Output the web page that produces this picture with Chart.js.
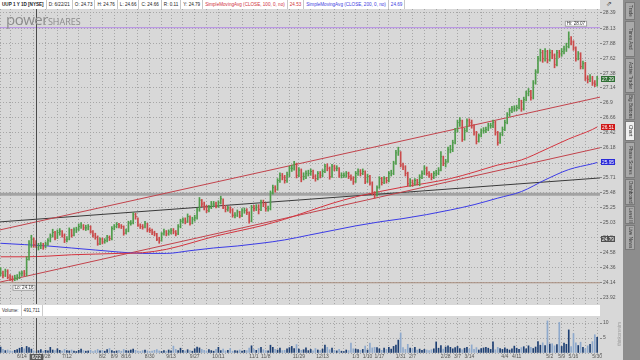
<!DOCTYPE html>
<html>
<head>
<meta charset="utf-8">
<title>UUP 1Y 1D</title>
<script src="https://cdn.jsdelivr.net/npm/chart.js@4.4.1/dist/chart.umd.min.js"></script>
<style>
  body { margin: 0; width: 640px; height: 360px; overflow: hidden; position: relative;
         background: #d8d8d8; font-family: "Liberation Sans", Arial, sans-serif; }
  canvas { position: absolute; left: 0; }
  #priceChart { top: 9px; }
  #volChart { top: 318px; }
  #hdr { position: absolute; left: 0; top: 0; width: 600px; height: 9px; background: #fff;
         white-space: nowrap; font-size: 4.6px; line-height: 9px; color: #222; }
  #hdr span { display: inline-block; padding: 0 2px; border-right: 1px solid #c8c8c8; }
  #hdr .r { color: #d0303c; }
  #hdr .b { color: #3c3ce0; }
  #logo { position: absolute; left: 6px; top: 9px; color: #8c8c8c; font-family: "Open Sans", sans-serif;
          font-size: 15px; letter-spacing: -0.5px; }
  #logo small { font-size: 9px; letter-spacing: 0; }
  #volbar { position: absolute; left: 0; top: 305px; width: 600px; height: 11px; background: #fff;
            font-size: 4.6px; line-height: 11px; color: #333; }
  #volbar span { display: inline-block; padding: 0 2px; border-right: 1px solid #ccc; }
  #tos { position: absolute; left: 617px; top: 322px; font-size: 4.5px; color: #9a9a9a;
         writing-mode: vertical-rl; transform: rotate(180deg); }
  #icon { position: absolute; left: 606px; top: 0; font-size: 7px; color: #444; }
  #tabs { position: absolute; left: 623px; top: 0; width: 17px; height: 360px; background: #8d8d8d; }
  #tabs div { position: absolute; left: 2px; width: 10px; background: #a9a9a9; border: 1px solid #7a7a7a;
              box-sizing: border-box; font-size: 4.6px; color: #333; writing-mode: vertical-rl;
              text-align: center; line-height: 8px; overflow: hidden; }
  #tabs div.on { background: #efefef; }
</style>
</head>
<body>
<div id="hdr"><span><b>UUP 1 Y 1D [NYSE]</b></span><span>D: 6/22/21</span><span>O: 24.73</span><span>H: 24.76</span><span>L: 24.66</span><span>C: 24.66</span><span>R: 0.11</span><span>Y: 24.79</span><span class="r">SimpleMovingAvg (CLOSE, 100, 0, no)</span><span class="r">24.53</span><span class="b">SimpleMovingAvg (CLOSE, 200, 0, no)</span><span class="b">24.69</span></div>
<div id="icon">&#8663;</div>
<canvas id="priceChart" width="622" height="295"></canvas>
<div id="logo">power<small>SHARES</small></div>
<div id="volbar"><span>Volume:</span><span>491,711</span></div>
<canvas id="volChart" width="622" height="42"></canvas>
<div id="tos">thinkorswim</div>
<div id="tabs">
  <div style="top:2px;height:18px">Trade</div>
  <div style="top:21px;height:36px">Times And Sales</div>
  <div style="top:58px;height:35px">Active Trader</div>
  <div style="top:94px;height:26px">Big Buttons</div>
  <div class="on" style="top:121px;height:20px">Chart</div>
  <div style="top:142px;height:36px">Phase Scores</div>
  <div style="top:179px;height:26px">Dashboard</div>
  <div style="top:206px;height:18px">Level II</div>
  <div style="top:225px;height:25px">Live News</div>
</div>
<script>
// daily bars, 6/1/21 .. 5/31/22 (index = trading day)
const high = [
  24.36, 24.31, 24.34, 24.33, 24.26, 24.24, 24.25, 24.26, 24.30, 24.31,
  24.32, 24.52, 24.76, 24.84, 24.80, 24.76, 24.72, 24.73, 24.72, 24.74,
  24.79, 24.86, 24.93, 24.90, 24.92, 24.94, 24.91, 24.86, 24.82, 24.95,
  24.93, 24.95, 24.96, 25.01, 25.03, 25.00, 24.99, 25.00, 24.98, 24.91,
  24.87, 24.83, 24.80, 24.80, 24.79, 24.84, 24.83, 24.97, 25.00, 25.03,
  25.02, 25.00, 24.98, 24.93, 25.05, 25.06, 25.18, 25.17, 25.10, 25.01,
  25.00, 25.05, 25.02, 24.95, 24.93, 24.90, 24.87, 24.81, 24.88, 24.93,
  24.91, 24.92, 24.94, 24.94, 24.91, 25.00, 25.08, 25.10, 25.10, 25.16,
  25.13, 25.11, 25.14, 25.25, 25.41, 25.38, 25.34, 25.29, 25.29, 25.35,
  25.35, 25.34, 25.36, 25.43, 25.39, 25.29, 25.28, 25.27, 25.24, 25.18,
  25.22, 25.20, 25.24, 25.25, 25.24, 25.19, 25.29, 25.29, 25.30, 25.30,
  25.37, 25.37, 25.33, 25.28, 25.51, 25.60, 25.59, 25.70, 25.79, 25.78,
  25.75, 25.80, 25.89, 25.91, 25.97, 25.94, 25.87, 25.85, 25.79, 25.82,
  25.83, 25.85, 25.83, 25.76, 25.81, 25.81, 25.84, 25.92, 25.93, 25.88,
  25.92, 25.91, 25.90, 25.87, 25.79, 25.79, 25.81, 25.80, 25.76, 25.73,
  25.81, 25.85, 25.84, 25.85, 25.82, 25.77, 25.75, 25.65, 25.50, 25.59,
  25.73, 25.72, 25.73, 25.72, 25.81, 25.83, 25.97, 26.14, 26.19, 26.12,
  25.94, 25.90, 25.80, 25.70, 25.68, 25.70, 25.69, 25.76, 25.82, 25.90,
  25.88, 25.81, 25.78, 25.81, 25.83, 25.87, 26.12, 26.05, 26.00, 26.19,
  26.22, 26.30, 26.49, 26.62, 26.66, 26.62, 26.49, 26.64, 26.64, 26.62,
  26.55, 26.44, 26.40, 26.48, 26.50, 26.51, 26.57, 26.57, 26.62, 26.60,
  26.44, 26.42, 26.51, 26.62, 26.74, 26.81, 26.84, 26.85, 26.86, 26.97,
  26.94, 26.99, 27.09, 27.13, 27.10, 27.26, 27.44, 27.66, 27.78, 27.76,
  27.79, 27.76, 27.77, 27.76, 27.70, 27.76, 27.76, 27.79, 27.83, 27.88,
  28.07, 27.99, 27.92, 27.82, 27.74, 27.72, 27.58, 27.56, 27.34, 27.36,
  27.33, 27.26, 27.33
];
const low = [
  24.24, 24.21, 24.23, 24.20, 24.17, 24.16, 24.17, 24.18, 24.20, 24.24,
  24.24, 24.24, 24.47, 24.66, 24.66, 24.66, 24.62, 24.64, 24.63, 24.65,
  24.69, 24.74, 24.81, 24.77, 24.79, 24.84, 24.81, 24.73, 24.74, 24.77,
  24.81, 24.83, 24.88, 24.91, 24.94, 24.92, 24.91, 24.92, 24.87, 24.81,
  24.78, 24.69, 24.70, 24.71, 24.72, 24.74, 24.76, 24.77, 24.92, 24.95,
  24.95, 24.94, 24.84, 24.86, 24.89, 24.99, 25.01, 25.08, 24.97, 24.94,
  24.93, 24.95, 24.89, 24.88, 24.85, 24.83, 24.76, 24.72, 24.75, 24.84,
  24.83, 24.84, 24.86, 24.86, 24.83, 24.85, 24.95, 25.02, 25.01, 25.03,
  24.99, 25.01, 25.05, 25.08, 25.20, 25.27, 25.22, 25.18, 25.19, 25.24,
  25.27, 25.25, 25.26, 25.31, 25.24, 25.19, 25.20, 25.18, 25.11, 25.10,
  25.12, 25.10, 25.12, 25.17, 25.15, 25.02, 25.04, 25.20, 25.21, 25.16,
  25.21, 25.27, 25.20, 25.20, 25.22, 25.46, 25.49, 25.52, 25.64, 25.68,
  25.63, 25.64, 25.73, 25.81, 25.83, 25.71, 25.73, 25.65, 25.68, 25.70,
  25.74, 25.75, 25.70, 25.66, 25.68, 25.71, 25.73, 25.79, 25.82, 25.69,
  25.72, 25.82, 25.82, 25.72, 25.71, 25.72, 25.72, 25.70, 25.67, 25.61,
  25.64, 25.75, 25.74, 25.76, 25.62, 25.64, 25.60, 25.45, 25.40, 25.43,
  25.55, 25.60, 25.62, 25.63, 25.65, 25.74, 25.76, 25.92, 26.06, 25.88,
  25.84, 25.74, 25.59, 25.58, 25.58, 25.60, 25.60, 25.59, 25.70, 25.76,
  25.75, 25.72, 25.68, 25.70, 25.74, 25.76, 25.82, 25.90, 25.88, 25.95,
  26.10, 26.12, 26.24, 26.43, 26.52, 26.28, 26.30, 26.43, 26.53, 26.49,
  26.38, 26.24, 26.27, 26.35, 26.41, 26.42, 26.45, 26.49, 26.50, 26.38,
  26.22, 26.25, 26.37, 26.45, 26.56, 26.68, 26.74, 26.76, 26.77, 26.80,
  26.76, 26.78, 26.93, 27.01, 26.94, 26.96, 27.20, 27.38, 27.58, 27.56,
  27.58, 27.55, 27.58, 27.62, 27.47, 27.50, 27.64, 27.66, 27.70, 27.74,
  27.80, 27.85, 27.76, 27.58, 27.60, 27.45, 27.45, 27.26, 27.22, 27.24,
  27.18, 27.16, 27.17
];
const close = [
  24.28, 24.25, 24.31, 24.22, 24.20, 24.19, 24.21, 24.22, 24.27, 24.28,
  24.27, 24.48, 24.72, 24.78, 24.70, 24.66, 24.68, 24.69, 24.67, 24.71,
  24.76, 24.83, 24.88, 24.80, 24.88, 24.90, 24.84, 24.77, 24.78, 24.92,
  24.84, 24.92, 24.93, 24.97, 24.98, 24.95, 24.95, 24.97, 24.89, 24.84,
  24.81, 24.71, 24.78, 24.74, 24.76, 24.81, 24.79, 24.94, 24.97, 25.00,
  24.98, 24.97, 24.87, 24.90, 25.02, 25.02, 25.15, 25.12, 24.99, 24.97,
  24.96, 25.02, 24.92, 24.91, 24.88, 24.86, 24.78, 24.76, 24.86, 24.89,
  24.86, 24.89, 24.91, 24.89, 24.86, 24.97, 25.05, 25.07, 25.05, 25.12,
  25.02, 25.08, 25.10, 25.22, 25.37, 25.31, 25.26, 25.21, 25.26, 25.31,
  25.31, 25.28, 25.33, 25.39, 25.26, 25.23, 25.25, 25.22, 25.14, 25.14,
  25.19, 25.13, 25.21, 25.21, 25.18, 25.05, 25.26, 25.24, 25.26, 25.23,
  25.34, 25.31, 25.24, 25.24, 25.48, 25.56, 25.53, 25.67, 25.75, 25.72,
  25.67, 25.76, 25.86, 25.86, 25.93, 25.75, 25.83, 25.73, 25.73, 25.78,
  25.78, 25.81, 25.73, 25.70, 25.78, 25.75, 25.81, 25.89, 25.86, 25.73,
  25.89, 25.86, 25.86, 25.75, 25.75, 25.75, 25.78, 25.73, 25.70, 25.65,
  25.78, 25.81, 25.78, 25.81, 25.65, 25.73, 25.63, 25.48, 25.45, 25.56,
  25.70, 25.64, 25.70, 25.67, 25.78, 25.78, 25.94, 26.10, 26.13, 25.91,
  25.88, 25.78, 25.62, 25.64, 25.62, 25.67, 25.64, 25.72, 25.78, 25.86,
  25.78, 25.75, 25.72, 25.78, 25.78, 25.83, 26.04, 25.94, 25.96, 26.15,
  26.15, 26.26, 26.45, 26.58, 26.61, 26.31, 26.45, 26.61, 26.58, 26.53,
  26.42, 26.28, 26.37, 26.45, 26.45, 26.47, 26.53, 26.53, 26.58, 26.42,
  26.26, 26.39, 26.47, 26.58, 26.71, 26.77, 26.80, 26.80, 26.82, 26.93,
  26.80, 26.95, 27.05, 27.08, 26.98, 27.22, 27.40, 27.62, 27.72, 27.62,
  27.74, 27.60, 27.72, 27.68, 27.52, 27.72, 27.70, 27.74, 27.78, 27.82,
  27.95, 27.90, 27.80, 27.62, 27.70, 27.49, 27.54, 27.30, 27.28, 27.30,
  27.22, 27.20, 27.29
];
// volume, millions
const volume = [
  2.0, 1.2, 0.8, 1.0, 0.7, 0.6, 0.9, 1.1, 1.6, 1.9,
  1.4, 2.2, 1.8, 1.3, 0.7, 0.5, 0.8, 1.1, 0.6, 0.9,
  0.7, 1.9, 1.0, 0.8, 1.4, 0.9, 0.6, 1.2, 0.8, 0.7,
  1.0, 0.6, 0.5, 0.9, 1.3, 0.8, 0.6, 0.7, 0.9, 0.5,
  0.8, 1.2, 0.7, 0.9, 0.6, 1.1, 1.5, 0.8, 0.5, 0.7,
  0.9, 0.6, 1.2, 0.8, 0.7, 1.0, 1.3, 0.9, 0.6, 0.5,
  0.8, 1.0, 0.7, 0.5, 0.6, 0.9, 1.1, 0.7, 0.5, 0.8,
  0.6, 1.0, 0.7, 2.3, 1.2, 0.8, 1.6, 0.9, 0.7, 1.1,
  0.8, 0.6, 1.4, 2.0, 1.7, 1.2, 0.9, 0.7, 1.1, 0.8,
  0.6, 1.2, 1.9, 0.8, 1.3, 0.7, 0.9, 1.5, 0.6, 0.8,
  0.7, 1.0, 0.6, 0.9, 0.8, 1.6, 2.4, 1.2, 0.9, 1.5,
  1.9, 1.1, 0.8, 0.7, 2.6, 1.9, 1.2, 1.0, 1.6, 0.8,
  0.9, 1.4, 1.8, 2.2, 1.5, 2.8, 1.3, 0.9, 1.1, 1.7,
  0.8, 1.2, 0.7, 1.5, 1.0, 0.8, 1.3, 2.6, 1.9, 1.1,
  1.6, 0.9, 0.7, 1.2, 0.6, 0.5, 1.0, 0.8, 3.3, 1.4,
  1.3, 1.1, 0.9, 1.2, 2.3, 1.0, 3.3, 1.7, 1.9, 1.8,
  1.4, 0.9, 1.6, 1.2, 1.9, 1.3, 2.2, 2.6, 4.3, 6.7,
  1.8, 1.2, 2.9, 1.6, 1.4, 1.9, 1.0, 1.3, 0.9, 1.2,
  1.0, 0.8, 1.1, 1.4, 3.7, 1.6, 2.5, 1.3, 2.0, 2.4,
  1.9, 1.4, 1.8, 2.2, 1.5, 1.1, 1.6, 1.9, 1.3, 2.7,
  1.2, 1.8, 1.0, 1.5, 1.7, 1.9, 1.6, 1.2, 3.7, 1.1,
  1.9, 1.5, 1.2, 1.7, 1.3, 1.0, 1.4, 2.3, 1.6, 1.2,
  1.8, 2.1, 1.4, 2.4, 1.9, 1.5, 2.0, 3.8, 2.6, 3.4,
  2.5, 10.7, 3.0, 3.1, 2.4, 2.8, 10.2, 2.2, 3.3, 2.9,
  7.7, 2.1, 6.5, 3.4, 2.5, 3.6, 1.9, 1.4, 2.4, 2.9,
  3.8, 6.1, 5.2
];

// moving averages, sampled every 10 bars
const smaIdx = [0, 10, 20, 30, 40, 50, 60, 70, 80, 90, 100, 110, 120, 130, 140, 150, 160, 170, 180, 190, 200, 210, 220, 230, 240, 250, 252];
const sma100 = [24.52, 24.52, 24.53, 24.55, 24.56, 24.57, 24.58, 24.63, 24.72, 24.82, 24.90, 24.98, 25.08, 25.20, 25.32, 25.42, 25.50, 25.57, 25.63, 25.70, 25.80, 25.91, 25.99, 26.15, 26.32, 26.47, 26.51];
const sma200 = [24.72, 24.70, 24.68, 24.65, 24.62, 24.59, 24.57, 24.57, 24.61, 24.65, 24.68, 24.72, 24.77, 24.84, 24.91, 24.98, 25.04, 25.09, 25.15, 25.22, 25.30, 25.40, 25.50, 25.68, 25.84, 25.93, 25.95];

// drawn lines: [value at left edge, value at right edge]
const upperTrend = [24.92, 26.99];
const lowerTrend = [24.15, 26.18];
const blackTrend = [25.04, 25.71];
const supportLevel = 25.46;
const hiLevel = 28.14;
const loLevel = 24.14;

const yTicks = [23.92, 24.14, 24.36, 24.58, 24.8, 25.03, 25.25, 25.48, 25.71, 25.94, 26.18, 26.42, 26.66, 26.9, 27.14, 27.38, 27.62, 27.88, 28.13, 28.39];
const weekIdx = [0, 4, 9, 14, 19, 24, 28, 33, 38, 43, 48, 53, 58, 63, 68, 72, 77, 82, 87, 92, 97, 102, 107, 112, 117, 122, 126, 131, 136, 141, 145, 150, 155, 160, 164, 169, 174, 179, 184, 188, 193, 198, 203, 208, 213, 218, 222, 227, 232, 237, 242, 247, 252];
const weekLbl = ['', '', '6/14', '', '6/28', '', '7/12', '', '', '8/2', '8/9', '8/16', '', '8/30', '', '9/13', '', '9/27', '', '10/11', '', '', '11/1', '11/8', '', '', '11/29', '', '12/13', '', '', '1/3', '1/10', '1/17', '', '1/31', '2/7', '', '', '2/28', '3/7', '3/14', '', '', '4/4', '4/11', '', '', '5/2', '5/9', '5/16', '', '5/30'];

const crossIdx = 15, crossDate = '6/22';
const badgeVals = [27.29, 26.51, 25.95, 24.79];
const badgeColors = ['#2f6f34', '#d01818', '#2b2bd8', '#505050'];

const xMin = -0.25, xMax = 253.2;
const upColor = '#4f9c4b', downColor = '#c94a4a';
const barColors = close.map((c, i) => (i === 0 || c >= close[i - 1]) ? upColor : downColor);
const volColors = close.map((c, i) => (i === 0 || c >= close[i - 1]) ? '#1d3f73' : '#8ea9cc');

const gridCol = '#a6a6a6';
const smallFont = { size: 5, family: 'Liberation Sans' };

const flatLine = (vals, color, width) => ({
  type: 'line',
  data: [{ x: xMin, y: vals[0] }, { x: xMax, y: vals[1] }],
  borderColor: color, borderWidth: width, pointRadius: 0, order: 3
});

function drawTag(ctx, text, x, y) {
  ctx.font = '4.6px "Liberation Sans"';
  const w = ctx.measureText(text).width + 4;
  ctx.fillStyle = '#fff';
  ctx.strokeStyle = '#999';
  ctx.fillRect(x, y, w, 6);
  ctx.strokeRect(x + 0.5, y + 0.5, w - 1, 5);
  ctx.fillStyle = '#333';
  ctx.textBaseline = 'middle';
  ctx.fillText(text, x + 2, y + 3.2);
}

const priceExtras = {
  id: 'priceExtras',
  afterDatasetsDraw(chart) {
    const { ctx, chartArea: a, scales: { x, y } } = chart;
    ctx.save();
    const cx = Math.round(x.getPixelForValue(crossIdx)) + 0.5;
    ctx.strokeStyle = '#4a4a4a';
    ctx.lineWidth = 1;
    ctx.beginPath(); ctx.moveTo(cx, a.top); ctx.lineTo(cx, a.bottom); ctx.stroke();

    const hiIdx = high.indexOf(Math.max(...high));
    const loIdx = low.indexOf(Math.min(...low));
    drawTag(ctx, 'Hi: ' + Math.max(...high).toFixed(2), x.getPixelForValue(hiIdx) - 4, y.getPixelForValue(hiLevel) - 7);
    drawTag(ctx, 'Lo: ' + Math.min(...low).toFixed(2), x.getPixelForValue(loIdx), y.getPixelForValue(loLevel) + 2);

    ctx.font = '4.8px "Liberation Sans"';
    ctx.textBaseline = 'middle';
    badgeVals.forEach((v, k) => {
      const by = Math.round(y.getPixelForValue(v));
      ctx.fillStyle = badgeColors[k];
      ctx.fillRect(a.right + 1, by - 3, 14, 6);
      ctx.fillStyle = '#fff';
      ctx.fillText(v.toFixed(2), a.right + 2, by + 0.3);
    });
    ctx.restore();
  }
};

new Chart(document.getElementById('priceChart'), {
  type: 'bar',
  data: {
    datasets: [
      {
        type: 'bar',
        data: high.map((h, i) => ({ x: i, y: [low[i], h] })),
        backgroundColor: barColors,
        barThickness: 1,
        order: 0
      },
      {
        type: 'line',
        data: close.map((c, i) => ({ x: i, y: c })),
        showLine: false,
        pointStyle: 'dash',
        pointRadius: 1.2,
        pointBorderWidth: 1,
        pointBorderColor: barColors,
        order: 0
      },
      {
        type: 'line',
        data: smaIdx.map((i, k) => ({ x: i, y: sma100[k] })),
        borderColor: '#d3343f', borderWidth: 1, pointRadius: 0,
        cubicInterpolationMode: 'monotone', order: 2
      },
      {
        type: 'line',
        data: smaIdx.map((i, k) => ({ x: i, y: sma200[k] })),
        borderColor: '#3b3be6', borderWidth: 1, pointRadius: 0,
        cubicInterpolationMode: 'monotone', order: 2
      },
      flatLine(upperTrend, '#c2434c', 1),
      flatLine(lowerTrend, '#c2434c', 1),
      flatLine(blackTrend, '#3a3a3a', 1),
      flatLine([supportLevel, supportLevel], '#a3a3a3', 3),
      flatLine([hiLevel, hiLevel], '#b48ae6', 1),
      flatLine([loLevel, loLevel], '#a88c7c', 1)
    ]
  },
  options: {
    responsive: false,
    animation: false,
    events: [],
    layout: { padding: 0, autoPadding: false },
    plugins: { legend: { display: false }, tooltip: { enabled: false } },
    scales: {
      x: {
        type: 'linear', min: xMin, max: xMax, offset: false,
        afterBuildTicks: s => { s.ticks = weekIdx.map(v => ({ value: v })); },
        afterFit: s => { s.height = 0; s.paddingLeft = 0; s.paddingRight = 0; },
        ticks: { display: false },
        grid: { color: gridCol, drawTicks: false, offset: false },
        border: { display: false, dash: [1, 2] }
      },
      y: {
        type: 'logarithmic', position: 'right', min: 23.834, max: 28.458, bounds: 'data',
        afterBuildTicks: s => { s.ticks = yTicks.map(v => ({ value: v })); },
        afterFit: s => { s.width = 22; s.paddingTop = 0; s.paddingBottom = 0; },
        ticks: { callback: (v, i) => String(yTicks[i]), font: smallFont, color: '#555', padding: 1, autoSkip: false },
        grid: { color: gridCol, tickColor: '#888', tickLength: 2 },
        border: { display: false, dash: [1, 2] }
      }
    }
  },
  plugins: [priceExtras]
});

const volExtras = {
  id: 'volExtras',
  afterDatasetsDraw(chart) {
    const { ctx, chartArea: a, scales: { x } } = chart;
    ctx.save();
    const cx = Math.round(x.getPixelForValue(crossIdx)) + 0.5;
    ctx.strokeStyle = '#4a4a4a';
    ctx.beginPath(); ctx.moveTo(cx, a.top); ctx.lineTo(cx, a.bottom); ctx.stroke();
    ctx.font = '5px "Liberation Sans"';
    const w = ctx.measureText(crossDate).width + 4;
    ctx.fillStyle = '#5a5a5a';
    ctx.fillRect(cx - w / 2, a.bottom + 1, w, 6);
    ctx.fillStyle = '#fff';
    ctx.textAlign = 'center';
    ctx.textBaseline = 'middle';
    ctx.fillText(crossDate, cx, a.bottom + 4.2);
    ctx.restore();
  }
};

new Chart(document.getElementById('volChart'), {
  type: 'bar',
  data: {
    datasets: [{
      data: volume.map((v, i) => ({ x: i, y: v })),
      backgroundColor: volColors,
      barThickness: 1
    }]
  },
  options: {
    responsive: false,
    animation: false,
    events: [],
    layout: { padding: 0, autoPadding: false },
    plugins: { legend: { display: false }, tooltip: { enabled: false } },
    scales: {
      x: {
        type: 'linear', min: xMin, max: xMax, offset: false,
        afterBuildTicks: s => { s.ticks = weekIdx.map(v => ({ value: v })); },
        afterFit: s => { s.height = 7; s.paddingLeft = 0; s.paddingRight = 0; },
        ticks: { callback: (v, i) => weekLbl[i], font: smallFont, color: '#555', padding: 1, maxRotation: 0, autoSkip: false },
        grid: { color: gridCol, drawTicks: false, offset: false },
        border: { display: false, dash: [1, 2] }
      },
      y: {
        type: 'linear', position: 'right', min: 0, max: 11.67,
        afterBuildTicks: s => { s.ticks = [0, 5, 10].map(v => ({ value: v })); },
        afterFit: s => { s.width = 22; s.paddingTop = 0; s.paddingBottom = 0; },
        ticks: { callback: v => (v === 0 ? '' : String(v)), font: smallFont, color: '#555', padding: 1 },
        grid: { color: gridCol, tickColor: '#888', tickLength: 2 },
        border: { display: false, dash: [1, 2] }
      }
    }
  },
  plugins: [volExtras]
});
</script>
</body>
</html>
